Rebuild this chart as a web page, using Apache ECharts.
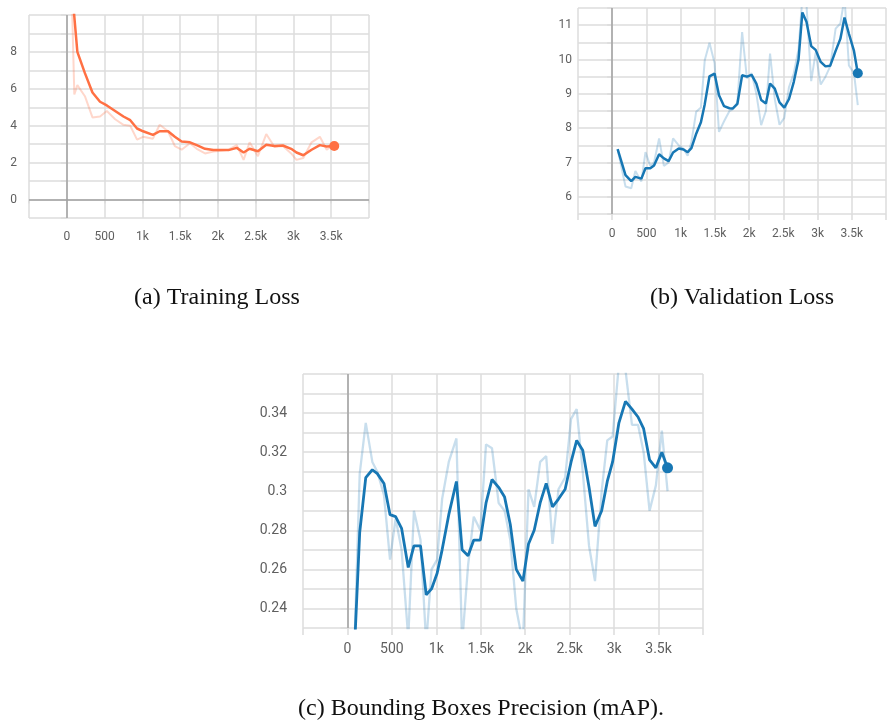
<!DOCTYPE html>
<html>
<head>
<meta charset="utf-8">
<title>Training curves</title>
<script src="https://cdn.jsdelivr.net/npm/echarts@6/dist/echarts.min.js"></script>
<style>
  html, body { margin: 0; padding: 0; background: #fff; }
  #chart { width: 889px; height: 722px; }
</style>
</head>
<body>
<div id="chart"></div>
<script>
// (a) training loss: raw values and smoothed curve per step
const trainSteps    = [60, 100, 140, 240, 340, 440, 530, 640, 750, 840, 930, 1010, 1140, 1230, 1340, 1430, 1520, 1630, 1720, 1830, 1940, 2040, 2140, 2250, 2340, 2420, 2530, 2640, 2750, 2860, 2970, 3040, 3130, 3240, 3350, 3440, 3540];
const trainSmoothed = [12.0, 9.9, 8.0, 6.85, 5.8, 5.3, 5.1, 4.8, 4.5, 4.3, 3.85, 3.7, 3.5, 3.7, 3.7, 3.4, 3.15, 3.1, 2.95, 2.75, 2.68, 2.68, 2.68, 2.8, 2.55, 2.75, 2.62, 2.97, 2.9, 2.93, 2.75, 2.55, 2.4, 2.7, 2.95, 2.87, 2.9];
const trainRaw      = [12.0, 5.7, 6.2, 5.6, 4.45, 4.5, 4.8, 4.35, 4.05, 4.0, 3.25, 3.4, 3.3, 4.05, 3.7, 2.9, 2.7, 3.05, 2.75, 2.5, 2.6, 2.65, 2.7, 2.95, 2.15, 3.1, 2.35, 3.55, 2.85, 2.9, 2.5, 2.15, 2.25, 3.1, 3.4, 2.7, 3.0];

// (b) validation loss
const valSteps    = [79, 194, 278, 338, 426, 486, 556, 611, 685, 755, 824, 889, 972, 1042, 1102, 1157, 1227, 1296, 1352, 1421, 1495, 1560, 1634, 1713, 1759, 1829, 1898, 1968, 2037, 2106, 2176, 2245, 2306, 2375, 2444, 2514, 2583, 2653, 2722, 2778, 2838, 2907, 2972, 3046, 3116, 3185, 3264, 3333, 3394, 3458, 3532, 3588];
const valSmoothed = [7.39, 6.63, 6.46, 6.58, 6.53, 6.83, 6.83, 6.91, 7.24, 7.12, 7.04, 7.29, 7.41, 7.38, 7.3, 7.42, 7.84, 8.17, 8.7, 9.51, 9.59, 8.96, 8.64, 8.58, 8.57, 8.71, 9.54, 9.5, 9.55, 9.3, 8.82, 8.72, 9.3, 9.15, 8.75, 8.6, 8.85, 9.35, 10.0, 11.37, 11.1, 10.39, 10.28, 9.93, 9.8, 9.82, 10.25, 10.6, 11.22, 10.75, 10.25, 9.6];
const valRaw      = [7.39, 6.3, 6.25, 6.75, 6.45, 7.3, 6.9, 7.0, 7.7, 6.9, 7.0, 7.7, 7.5, 7.4, 7.2, 7.6, 8.48, 8.6, 9.98, 10.49, 9.9, 7.89, 8.2, 8.5, 8.55, 8.75, 10.8, 9.45, 9.6, 9.0, 8.09, 8.5, 10.17, 8.85, 8.1, 8.3, 9.2, 9.6, 10.3, 11.8, 11.6, 9.37, 10.2, 9.27, 9.5, 9.8, 10.9, 11.05, 11.8, 9.83, 9.6, 8.67];

// (c) bounding boxes precision (mAP)
const mapSteps    = [75, 138, 206, 280, 336, 411, 479, 542, 609, 684, 748, 822, 886, 946, 1009, 1065, 1140, 1226, 1290, 1357, 1421, 1495, 1559, 1626, 1701, 1768, 1832, 1899, 1974, 2037, 2101, 2168, 2236, 2307, 2374, 2449, 2516, 2579, 2647, 2718, 2785, 2860, 2923, 2983, 3054, 3128, 3201, 3269, 3332, 3399, 3470, 3537, 3601];
const mapSmoothed = [0.215, 0.279, 0.307, 0.311, 0.309, 0.304, 0.288, 0.287, 0.281, 0.261, 0.272, 0.272, 0.247, 0.25, 0.258, 0.27, 0.288, 0.305, 0.27, 0.267, 0.275, 0.275, 0.294, 0.306, 0.302, 0.297, 0.283, 0.26, 0.254, 0.273, 0.28, 0.294, 0.304, 0.292, 0.296, 0.301, 0.315, 0.326, 0.321, 0.302, 0.282, 0.29, 0.305, 0.315, 0.335, 0.346, 0.342, 0.338, 0.332, 0.316, 0.312, 0.32, 0.312];
const mapRaw      = [0.215, 0.309, 0.335, 0.315, 0.31, 0.298, 0.265, 0.286, 0.27, 0.225, 0.29, 0.275, 0.222, 0.26, 0.265, 0.296, 0.315, 0.327, 0.222, 0.262, 0.287, 0.28, 0.324, 0.322, 0.294, 0.29, 0.275, 0.24, 0.222, 0.301, 0.292, 0.315, 0.318, 0.273, 0.301, 0.307, 0.337, 0.342, 0.31, 0.272, 0.254, 0.3, 0.326, 0.328, 0.365, 0.362, 0.334, 0.334, 0.32, 0.29, 0.303, 0.331, 0.3];

const captions = ['(a) Training Loss', '(b) Validation Loss', '(c) Bounding Boxes Precision (mAP).'];

const GRID = '#dcdcdc';
const ZERO = '#a0a0a0';
const LABEL = '#5f5f5f';
const ORANGE = '#ff7043';
const ORANGE_LIGHT = 'rgba(255,112,67,0.28)';
const BLUE = '#1777b4';
const BLUE_LIGHT = 'rgba(23,119,180,0.24)';
const CAPTION_FONT = '24px "Liberation Serif", "Times New Roman", serif';

function stepLabel(v) {
  if (v < 0 || v >= 4000) return '';
  if (v === 0) return '0';
  if (v < 1000) return String(v);
  return (v / 1000) + 'k';
}

function pairs(xs, ys) { return xs.map((x, i) => [x, ys[i]]); }

function xAxisFor(gridIndex, fontSize, tickLen, margin) {
  return {
    type: 'value', gridIndex, min: -500, max: 4000, interval: 500,
    axisLine: { show: false },
    axisTick: { show: true, length: tickLen, lineStyle: { color: GRID, width: 1.5 } },
    axisLabel: { color: LABEL, fontFamily: 'Roboto', fontSize, margin, formatter: stepLabel },
    splitLine: { show: true, lineStyle: { color: GRID, width: 1.5 } }
  };
}

function yAxisFor(gridIndex, min, max, interval, fontSize, tickLen, margin, formatter) {
  return {
    type: 'value', gridIndex, min, max, interval,
    axisLine: { show: false },
    axisTick: { show: true, length: tickLen, lineStyle: { color: GRID, width: 1.5 } },
    axisLabel: { color: LABEL, fontFamily: 'Roboto', fontSize, margin, formatter },
    splitLine: { show: true, lineStyle: { color: GRID, width: 1.5 } }
  };
}

function curveSeries(idx, xs, raw, smooth, dark, light, width, dotSize, zeroLines) {
  const last = xs.length - 1;
  return [
    {
      type: 'line', xAxisIndex: idx, yAxisIndex: idx, data: pairs(xs, raw),
      showSymbol: false, symbol: 'none', z: 2,
      lineStyle: { color: light, width: width - 0.5 },
      markLine: {
        silent: true, symbol: 'none', animation: false,
        label: { show: false },
        lineStyle: { color: ZERO, width: 1.5, type: 'solid' },
        data: zeroLines
      }
    },
    {
      type: 'line', xAxisIndex: idx, yAxisIndex: idx, data: pairs(xs, smooth),
      showSymbol: false, symbol: 'none', z: 3,
      lineStyle: { color: dark, width }
    },
    {
      type: 'scatter', xAxisIndex: idx, yAxisIndex: idx, z: 4,
      data: [[xs[last], smooth[last]]],
      symbolSize: dotSize, itemStyle: { color: dark, opacity: 1 }
    }
  ];
}

function caption(text, x, y) {
  return {
    type: 'text', x, y,
    style: { text, align: 'center', verticalAlign: 'middle', font: CAPTION_FONT, fill: '#111' }
  };
}

const chart = echarts.init(document.getElementById('chart'), null, { renderer: 'canvas' });

chart.setOption({
  animation: false,
  backgroundColor: '#fff',
  grid: [
    { left: 29, top: 15, width: 340, height: 203 },
    { left: 578, top: 8, width: 324, height: 206 },
    { left: 303, top: 374, width: 400, height: 254 }
  ],
  xAxis: [
    xAxisFor(0, 12, 4, 13),
    xAxisFor(1, 12, 6, 14),
    xAxisFor(2, 14, 7, 14)
  ],
  yAxis: [
    yAxisFor(0, -1, 10, 1, 12, 6, 12, v => (v % 2 === 0 && v >= 0 && v < 10) ? String(v) : ''),
    yAxisFor(1, 5.5, 11.5, 0.5, 12, 5, 6, v => (Number.isInteger(v) ? String(v) : '')),
    yAxisFor(2, 0.23, 0.36, 0.01, 14, 7, 16, v => {
      const k = Math.round(v * 100);
      return (k % 2 === 0 && k < 36) ? String(k / 100) : '';
    })
  ],
  series: [
    ...curveSeries(0, trainSteps, trainRaw, trainSmoothed, ORANGE, ORANGE_LIGHT, 2.5, 10, [{ xAxis: 0 }, { yAxis: 0 }]),
    ...curveSeries(1, valSteps, valRaw, valSmoothed, BLUE, BLUE_LIGHT, 2.5, 10, [{ xAxis: 0 }]),
    ...curveSeries(2, mapSteps, mapRaw, mapSmoothed, BLUE, BLUE_LIGHT, 2.8, 11, [{ xAxis: 0 }])
  ],
  graphic: [
    caption(captions[0], 217, 298),
    caption(captions[1], 742, 298),
    caption(captions[2], 481, 709)
  ]
});
</script>
</body>
</html>
